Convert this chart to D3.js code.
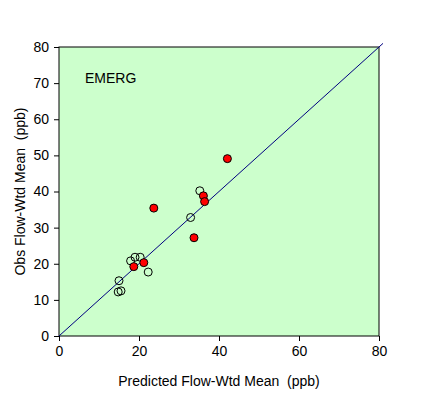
<!DOCTYPE html>
<html>
<head>
<meta charset="utf-8">
<script src="https://cdn.jsdelivr.net/npm/d3@7"></script>
<style>
  body { margin: 0; background: #fff; }
  text { font-family: "Liberation Sans", Arial, sans-serif; white-space: pre; }
</style>
</head>
<body>
<div id="chart"></div>
<script>
// predicted vs observed, red = filled, open = hollow
const redPred = [42.1, 23.7, 36.1, 36.4, 33.75, 21.2, 18.7];
const redObs  = [49.1, 35.4, 38.8, 37.2, 27.2, 20.3, 19.2];
const openPred = [35.2, 32.9, 17.9, 19.0, 20.3, 22.3, 15.0, 14.8, 15.5];
const openObs  = [40.2, 32.8, 20.8, 21.8, 21.8, 17.7, 15.3, 12.2, 12.5];
const ticks = [0, 10, 20, 30, 40, 50, 60, 70, 80];
const xTicks = [0, 20, 40, 60, 80];
const label = "EMERG";

const width = 429, height = 396;
const margin = { top: 47, right: 50, bottom: 60, left: 59 };

const svg = d3.select('#chart').append('svg')
  .attr('width', width)
  .attr('height', height);

const x = d3.scaleLinear().domain([0, 80]).range([margin.left, width - margin.right]);
const y = d3.scaleLinear().domain([0, 80]).range([height - margin.bottom, margin.top]);

svg.append('rect')
  .attr('x', x(0)).attr('y', y(80))
  .attr('width', x(80) - x(0)).attr('height', y(0) - y(80))
  .attr('fill', '#ccffcc')
  .attr('stroke', '#000').attr('stroke-width', 1);

// 1:1 line, runs slightly past the corner
svg.append('line')
  .attr('x1', x(0)).attr('y1', y(0))
  .attr('x2', x(81)).attr('y2', y(81))
  .attr('stroke', '#000080').attr('stroke-width', 1);

svg.append('text')
  .attr('x', x(6.5)).attr('y', y(70))
  .attr('font-size', 14).attr('fill', '#000')
  .text(label);

const openData = openPred.map((p, i) => ({ p, o: openObs[i] }));
const redData = redPred.map((p, i) => ({ p, o: redObs[i] }));

svg.selectAll('.open').data(openData).enter().append('circle')
  .attr('class', 'open')
  .attr('cx', d => x(d.p)).attr('cy', d => y(d.o))
  .attr('r', 4)
  .attr('fill', 'none').attr('stroke', '#000').attr('stroke-width', 1);

svg.selectAll('.red').data(redData).enter().append('circle')
  .attr('class', 'red')
  .attr('cx', d => x(d.p)).attr('cy', d => y(d.o))
  .attr('r', 4)
  .attr('fill', '#ff0000').attr('stroke', '#000').attr('stroke-width', 1);

// axes
const xAxis = svg.append('g').attr('transform', `translate(0,${y(0)})`)
  .call(d3.axisBottom(x).tickValues(xTicks).tickSize(5).tickPadding(5));
const yAxis = svg.append('g').attr('transform', `translate(${x(0)},0)`)
  .call(d3.axisLeft(y).tickValues(ticks).tickSize(5).tickPadding(5));
[xAxis, yAxis].forEach(g => {
  g.select('.domain').remove();
  g.selectAll('text').attr('font-size', 14).attr('fill', '#000')
    .attr('font-family', '"Liberation Sans", Arial, sans-serif');
  g.selectAll('line').attr('stroke', '#000');
});

svg.append('text')
  .attr('x', (x(0) + x(80)) / 2).attr('y', 386)
  .attr('text-anchor', 'middle').attr('font-size', 14).attr('fill', '#000')
  .text('Predicted Flow-Wtd Mean  (ppb)');

svg.append('text')
  .attr('transform', `translate(25,${(y(0) + y(80)) / 2}) rotate(-90)`)
  .attr('text-anchor', 'middle').attr('font-size', 14).attr('fill', '#000')
  .text('Obs Flow-Wtd Mean  (ppb)');
</script>
</body>
</html>
